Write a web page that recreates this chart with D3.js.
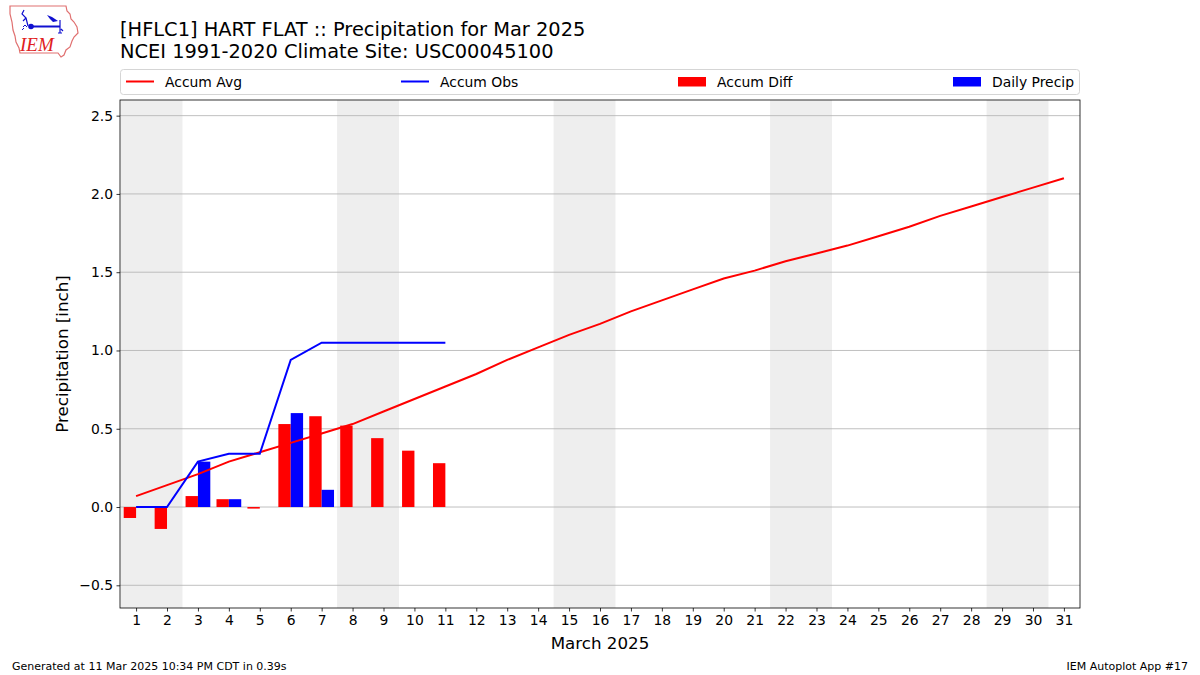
<!DOCTYPE html>
<html><head><meta charset="utf-8">
<script src="https://cdn.jsdelivr.net/npm/d3@7"></script>
<style>body{margin:0;background:#fff;}svg{display:block;font-family:"DejaVu Sans",sans-serif;}</style>
</head><body><svg id="c" width="1200" height="675"></svg>
<script>
const days = d3.range(1, 32);
const accumAvg = [0.07,0.14,0.21,0.29,0.35,0.41,0.47,0.53,0.61,0.69,0.77,0.85,0.94,1.02,1.10,1.17,1.25,1.32,1.39,1.46,1.51,1.57,1.62,1.67,1.73,1.79,1.86,1.92,1.98,2.04,2.10];
const obsDays = [1,2,3,4,5,6,7,8,9,10,11];
const accumObs = [0,0,0.29,0.34,0.34,0.94,1.05,1.05,1.05,1.05,1.05];
const accumDiff = [-0.07,-0.14,0.07,0.05,-0.01,0.53,0.58,0.52,0.44,0.36,0.28];
const dailyPrecip = [0,0,0.29,0.05,0,0.60,0.11,0,0,0,0];
const weekendStarts = [1,8,15,22,29];
const yTicks = [-0.5,0.0,0.5,1.0,1.5,2.0,2.5];

const svg = d3.select("#c");
const L=120,R=1080,T=100,B=608;
const x = d3.scaleLinear().domain([0.48,31.52]).range([L,R]);
const y = d3.scaleLinear().domain([-0.645,2.6]).range([B,T]);

// weekend shading
svg.append("g").selectAll("rect").data(weekendStarts).join("rect")
  .attr("x", d=>x(d-0.5)).attr("width", d=>x(d+1.5)-x(d-0.5))
  .attr("y",T).attr("height",B-T).attr("fill","#eeeeee");

// grid
svg.append("g").selectAll("line").data(yTicks).join("line")
  .attr("x1",L).attr("x2",R).attr("y1",d=>y(d)).attr("y2",d=>y(d))
  .attr("stroke","#b0b0b0").attr("stroke-width",0.8);

const bw = 0.4;
// diff bars
svg.append("g").selectAll("rect").data(obsDays).join("rect")
  .attr("x",(d)=>x(d-bw)).attr("width",x(bw)-x(0))
  .attr("y",(d,i)=>y(Math.max(0,accumDiff[i])))
  .attr("height",(d,i)=>Math.abs(y(accumDiff[i])-y(0)))
  .attr("fill","#ff0000");
// daily precip bars
svg.append("g").selectAll("rect").data(obsDays).join("rect")
  .attr("x",(d)=>x(d)).attr("width",x(bw)-x(0))
  .attr("y",(d,i)=>y(Math.max(0,dailyPrecip[i])))
  .attr("height",(d,i)=>Math.abs(y(dailyPrecip[i])-y(0)))
  .attr("fill","#0000ff");

// lines
const line = d3.line().x(d=>x(d[0])).y(d=>y(d[1]));
svg.append("path").attr("d",line(days.map((d,i)=>[d,accumAvg[i]])))
  .attr("fill","none").attr("stroke","#ff0000").attr("stroke-width",2);
svg.append("path").attr("d",line(obsDays.map((d,i)=>[d,accumObs[i]])))
  .attr("fill","none").attr("stroke","#0000ff").attr("stroke-width",2);

// axes
const xAxis = svg.append("g").attr("transform",`translate(0,${B})`)
  .call(d3.axisBottom(x).tickValues(days).tickFormat(d3.format("d")).tickSize(3.5).tickPadding(3.5));
const yAxis = svg.append("g").attr("transform",`translate(${L},0)`)
  .call(d3.axisLeft(y).tickValues(yTicks).tickFormat(d=>d<0?"\u2212"+Math.abs(d).toFixed(1):d.toFixed(1)).tickSize(3.5).tickPadding(3.5));
[xAxis,yAxis].forEach(a=>{a.select(".domain").remove();a.selectAll("text").attr("font-size",13.9).attr("font-family","DejaVu Sans").attr("fill","#000");a.selectAll("line").attr("stroke","#000").attr("stroke-width",0.8);});
svg.append("rect").attr("x",L).attr("y",T).attr("width",R-L).attr("height",B-T)
  .attr("fill","none").attr("stroke","#000").attr("stroke-width",0.8);

// axis labels
svg.append("text").attr("x",(L+R)/2).attr("y",649).attr("text-anchor","middle")
  .attr("font-size",16.7).text("March 2025");
svg.append("text").attr("transform",`translate(68,${(T+B)/2}) rotate(-90)`).attr("text-anchor","middle")
  .attr("font-size",16.7).text("Precipitation [inch]");

// title
svg.append("text").attr("x",120).attr("y",35.5).attr("font-size",19.4).text("[HFLC1] HART FLAT :: Precipitation for Mar 2025");
svg.append("text").attr("x",120).attr("y",57.5).attr("font-size",19.4).text("NCEI 1991-2020 Climate Site: USC00045100");

// legend
const lg = svg.append("g");
lg.append("rect").attr("x",120.5).attr("y",69.5).attr("width",959).attr("height",25).attr("rx",3)
  .attr("fill","#fff").attr("stroke","#d5d5d5").attr("stroke-width",1);
const legendItems = [
  {label:"Accum Avg",type:"line",color:"#ff0000",x:126},
  {label:"Accum Obs",type:"line",color:"#0000ff",x:401},
  {label:"Accum Diff",type:"rect",color:"#ff0000",x:678},
  {label:"Daily Precip",type:"rect",color:"#0000ff",x:953}
];
legendItems.forEach(it=>{
  if(it.type==="line") lg.append("line").attr("x1",it.x).attr("x2",it.x+28).attr("y1",81.5).attr("y2",81.5).attr("stroke",it.color).attr("stroke-width",2);
  else lg.append("rect").attr("x",it.x).attr("y",77).attr("width",28).attr("height",9.5).attr("fill",it.color);
  lg.append("text").attr("x",it.x+39).attr("y",86.5).attr("font-size",13.9).text(it.label);
});

// footer
svg.append("text").attr("x",12).attr("y",670).attr("font-size",11).text("Generated at 11 Mar 2025 10:34 PM CDT in 0.39s");
svg.append("text").attr("x",1188).attr("y",670).attr("font-size",11).attr("text-anchor","end").text("IEM Autoplot App #17");

// logo
const lo = svg.append("g");
lo.append("path").attr("d","M10,6 L66,6 L67,11 L70,14 L71,19 L74,22 L77,27 L78,33 L74,37 L72,41 L70,47 L66,50 L64,55 L61,57 L58,53 L20,53 L19,48 L16,42 L15,36 L13,30 L12,22 L10,14 Z")
  .attr("fill","#fff").attr("stroke","#e07070").attr("stroke-width",1.2);
lo.append("text").attr("x",20).attr("y",51).attr("font-family","Liberation Serif, serif").attr("font-style","italic")
  .attr("font-size",19).attr("fill","#e02020").text("IEM");
lo.append("line").attr("x1",30).attr("x2",60).attr("y1",26.5).attr("y2",26.5).attr("stroke","#1010d0").attr("stroke-width",2);
lo.append("circle").attr("cx",31).attr("cy",26.5).attr("r",2.8).attr("fill","#1010d0");
lo.append("path").attr("d","M47,15 L52,17 L58,21 L53,22 L50,19 Z").attr("fill","#1010d0");
lo.append("path").attr("d","M60,20 L60,33 M58,33 L62,33 M61,29 L63,31 M24,10 L22,14 L26,18 L23,21 M26,18 L28,26").attr("stroke","#1010d0").attr("fill","none").attr("stroke-width",1.2);
lo.append("path").attr("d","M23,27 L25,25 L27,27 M22,30 L24,28").attr("stroke","#1010d0").attr("fill","none").attr("stroke-width",1);
</script>
</body></html>
